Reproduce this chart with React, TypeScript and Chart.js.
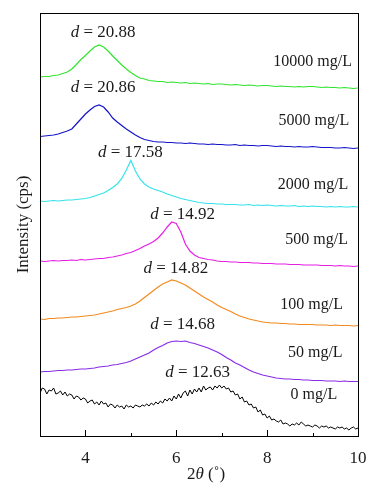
import React, { useEffect, useRef } from "react";
import { Chart, registerables } from "chart.js";

Chart.register(...registerables);

// 2θ grid (degrees)
const X_FINE = [
  3.00, 3.05, 3.10, 3.15, 3.20, 3.25, 3.30, 3.35, 3.40, 3.45, 3.50, 3.55, 3.60, 3.65, 3.70, 3.75, 3.80, 3.85, 3.90, 3.95,
  4.00, 4.05, 4.10, 4.15, 4.20, 4.25, 4.30, 4.35, 4.40, 4.45, 4.50, 4.55, 4.60, 4.65, 4.70, 4.75, 4.80, 4.85, 4.90, 4.95,
  5.00, 5.05, 5.10, 5.15, 5.20, 5.25, 5.30, 5.35, 5.40, 5.45, 5.50, 5.55, 5.60, 5.65, 5.70, 5.75, 5.80, 5.85, 5.90, 5.95,
  6.00, 6.05, 6.10, 6.15, 6.20, 6.25, 6.30, 6.35, 6.40, 6.45, 6.50, 6.55, 6.60, 6.65, 6.70, 6.75, 6.80, 6.85, 6.90, 6.95,
  7.00, 7.05, 7.10, 7.15, 7.20, 7.25, 7.30, 7.35, 7.40, 7.45, 7.50, 7.55, 7.60, 7.65, 7.70, 7.75, 7.80, 7.85, 7.90, 7.95,
  8.00, 8.05, 8.10, 8.15, 8.20, 8.25, 8.30, 8.35, 8.40, 8.45, 8.50, 8.55, 8.60, 8.65, 8.70, 8.75, 8.80, 8.85, 8.90, 8.95,
  9.00, 9.05, 9.10, 9.15, 9.20, 9.25, 9.30, 9.35, 9.40, 9.45, 9.50, 9.55, 9.60, 9.65, 9.70, 9.75, 9.80, 9.85, 9.90, 9.95,
  10.00,
];
const X_STEP = [
  3.0, 3.1, 3.2, 3.3, 3.4, 3.5, 3.6, 3.7, 3.8, 3.9,
  4.0, 4.1, 4.2, 4.3, 4.4, 4.5, 4.6, 4.7, 4.8, 4.9,
  5.0, 5.1, 5.2, 5.3, 5.4, 5.5, 5.6, 5.7, 5.8, 5.9,
  6.0, 6.1, 6.2, 6.3, 6.4, 6.5, 6.6, 6.7, 6.8, 6.9,
  7.0, 7.1, 7.2, 7.3, 7.4, 7.5, 7.6, 7.7, 7.8, 7.9,
  8.0, 8.1, 8.2, 8.3, 8.4, 8.5, 8.6, 8.7, 8.8, 8.9,
  9.0, 9.1, 9.2, 9.3, 9.4, 9.5, 9.6, 9.7, 9.8, 9.9,
  10.0,
];

// Intensity (stacked, arbitrary cps offsets)
const I_10000 = [
  359, 359.5, 359.5, 360.5, 361, 362.5, 364, 367, 371.5, 376.5,
  380.5, 385, 389, 391, 389, 385, 380, 375.5, 371, 367,
  363.5, 360.5, 358, 357, 355.5, 355, 354.5, 354.5, 353.5, 354,
  353.5, 353, 353.5, 352.5, 353, 352.5, 352, 352.5, 351.5, 352,
  352, 351.5, 351, 351.5, 351, 350.5, 351, 350.5, 350, 350.5,
  350.5, 350, 349.5, 350, 349.5, 349.5, 349, 349.5, 349, 349.5,
  349.5, 349, 348.5, 349, 348.5, 348.5, 348, 348.5, 348, 347.5,
  348,
];
const I_5000 = [
  299.5, 300, 300.5, 301, 302, 303.5, 305, 307, 312, 317,
  322, 326, 329.5, 331, 329, 324, 318, 314, 310.5, 307,
  304, 301, 298.5, 296.5, 295.5, 294.5, 294, 294, 293.5, 293.5,
  293, 293, 292.5, 293, 292.5, 292, 292, 291.5, 292, 291.5,
  291.5, 291, 291, 291.5, 290.5, 291, 290.5, 290.5, 290, 290.5,
  290.5, 290, 289.5, 290, 289.5, 289.5, 289, 289.5, 289, 289,
  289.5, 289, 288.5, 288.5, 288.5, 288, 288, 288.5, 288, 287.5,
  288,
];
const I_2000 = [
  235, 234.5, 235, 235.5, 235, 235.5, 236, 236, 236.5, 237,
  237.5, 238.5, 240, 241.5, 243, 245.5, 248.5, 252, 257.5, 266,
  275.5, 265, 257, 252, 249, 247, 245.5, 244, 242, 240.5,
  239, 237.5, 236.5, 235.5, 234.5, 233.5, 233, 232.5, 232.5, 232,
  232, 231.5, 231.5, 231.5, 231, 231, 231.5, 230.5, 231, 230.5,
  231, 230.5, 230, 230.5, 230, 230, 230.5, 229.5, 230, 229.5,
  230, 229.5, 229.5, 229, 229.5, 229, 229.5, 229, 229, 229.5,
  229,
];
const I_500 = [
  175, 174.5, 175, 175.5, 175, 175.5, 175.5, 176, 175.5, 176.5,
  176, 176.5, 177, 177.5, 177.5, 178.5, 179, 180, 181, 182.5,
  183.5, 185.5, 187.5, 190, 192, 194.5, 198, 203, 209, 214,
  212.5, 204, 192, 185, 181, 178.5, 177.5, 176.5, 176, 175,
  174.5, 174.5, 174, 174, 173.5, 173.5, 173.5, 173, 173, 172.5,
  172.5, 172.5, 172, 172, 172, 171.5, 171.5, 171.5, 171, 171,
  171, 171, 170.5, 170.5, 170.5, 170, 170.5, 170, 170, 169.5,
  170,
];
const I_100 = [
  117, 116.5, 117.5, 117.5, 118, 118, 118.5, 119, 119, 119.5,
  120, 120.5, 121, 122, 123, 124, 125, 126.5, 127.5, 128.5,
  130, 132, 135, 138.5, 142, 145.5, 149, 152, 154, 156,
  155, 153, 151, 148, 145, 142, 139, 136.5, 134, 131,
  128.5, 126.5, 124.5, 122, 120, 118.5, 117, 116, 115, 114,
  113.5, 113, 113, 112.5, 112.5, 112, 112, 111.5, 111.5, 111.5,
  111.5, 111, 111, 111, 110.5, 111, 110.5, 110.5, 110.5, 110,
  110.5,
];
const I_50 = [
  64, 64.5, 64.5, 65, 65.5, 65.5, 66, 66, 66.5, 67,
  67, 67.5, 68, 69, 69.5, 70, 71, 71.5, 72.5, 73.5,
  75, 77, 79, 81, 83, 86, 88.5, 90.5, 93, 94.5,
  95, 94.5, 95, 93.5, 92.5, 91, 89.5, 88, 86, 84,
  81.5, 78.5, 76, 73, 71, 68.5, 66, 64, 62.5, 61,
  60, 59, 58, 57.5, 57, 57, 56.5, 56.5, 56, 56,
  55.5, 55.5, 55.5, 55, 55, 55, 54.5, 55, 54.5, 54.5,
  54.5,
];
const I_0 = [
  43, 48, 47, 42, 46, 45, 48, 42, 43, 45, 41, 44, 40, 42, 41, 37, 40, 39, 36, 38,
  37, 33, 35, 36, 32, 34, 31, 35, 32, 33, 29, 32, 31, 28, 31, 29, 30, 27, 31, 29,
  30, 28, 31, 30, 29, 31, 30, 32, 30, 33, 31, 34, 32, 35, 33, 37, 35, 38, 35, 40,
  37, 42, 38, 43, 45, 40, 46, 42, 47, 44, 48, 44, 50, 46, 48, 49, 46, 50, 48, 51,
  48, 50, 47, 48, 44, 45, 41, 42, 37, 39, 34, 35, 31, 32, 28, 29, 24, 26, 21, 22,
  18, 20, 16, 17, 15, 14, 16, 12, 13, 12, 10, 12, 11, 13, 11, 14, 12, 10, 11, 10,
  9, 11, 10, 8, 10, 9, 10, 8, 9, 8, 7, 9, 8, 9, 7, 8, 6, 8, 9, 7,
  8,
];

const SERIES_NAMES = ["10000 mg/L", "5000 mg/L", "2000 mg/L", "500 mg/L", "100 mg/L", "50 mg/L", "0 mg/L"];
const SERIES_VALUES = [I_10000, I_5000, I_2000, I_500, I_100, I_50, I_0];
const SERIES_X = [X_STEP, X_STEP, X_STEP, X_STEP, X_STEP, X_STEP, X_FINE];
const SERIES_COLORS = ["#2fe52f", "#1414c8", "#35e3ea", "#e61ee6", "#f28a1e", "#8a2be8", "#000000"];
const SERIES_WIDTHS = [1.2, 1.2, 1.2, 1.2, 1.2, 1.2, 1];

// annotation positions in data units
const D_SPACING = ["20.88", "20.86", "17.58", "14.92", "14.82", "14.68", "12.63"];
const D_X = [4.39, 4.39, 4.99, 6.14, 5.99, 6.14, 6.47];
const D_Y = [403, 348, 283, 221, 167, 111, 63];
const CONC_X = [9.0, 9.03, 9.01, 9.09, 8.98, 9.06, 9.03];
const CONC_Y = [374, 315, 251, 196, 131, 83, 41];

const MAJOR_TICKS = [4, 6, 8, 10];
const MINOR_TICKS = [5, 7, 9];
const X_MIN = 3;
const X_MAX = 10;
const Y_MIN = 0;
const Y_MAX = 423;

const SERIF = "'Liberation Serif', 'DejaVu Serif', serif";
const TEXT_COLOR = "#1a1a1a";

const overlay = {
  id: "overlay",
  afterDraw(chart: any) {
    const { ctx, chartArea: a, scales } = chart;
    const xs = scales.x;
    const ys = scales.y;
    ctx.save();
    ctx.strokeStyle = "#000";
    ctx.lineWidth = 1;
    ctx.strokeRect(a.left + 0.5, a.top + 0.5, a.right - a.left, a.bottom - a.top);
    // inward ticks
    ctx.beginPath();
    MAJOR_TICKS.forEach((v) => {
      const px = Math.round(xs.getPixelForValue(v)) + 0.5;
      ctx.moveTo(px, a.bottom);
      ctx.lineTo(px, a.bottom - 6);
    });
    MINOR_TICKS.forEach((v) => {
      const px = Math.round(xs.getPixelForValue(v)) + 0.5;
      ctx.moveTo(px, a.bottom);
      ctx.lineTo(px, a.bottom - 3);
    });
    ctx.stroke();

    ctx.fillStyle = TEXT_COLOR;
    ctx.textBaseline = "middle";
    ctx.textAlign = "left";
    // d-spacing labels
    D_SPACING.forEach((t, i) => {
      const cx = xs.getPixelForValue(D_X[i]);
      const cy = ys.getPixelForValue(D_Y[i]);
      const italic = `italic 17px ${SERIF}`;
      const normal = `17px ${SERIF}`;
      ctx.font = italic;
      const w1 = ctx.measureText("d").width;
      ctx.font = normal;
      const rest = " = " + t;
      const w2 = ctx.measureText(rest).width;
      const x0 = cx - (w1 + w2) / 2;
      ctx.font = italic;
      ctx.fillText("d", x0, cy);
      ctx.font = normal;
      ctx.fillText(rest, x0 + w1, cy);
    });
    // concentration labels
    ctx.textAlign = "center";
    ctx.font = `16px ${SERIF}`;
    SERIES_NAMES.forEach((t, i) => {
      ctx.fillText(t, xs.getPixelForValue(CONC_X[i]), ys.getPixelForValue(CONC_Y[i]));
    });
    // x title with italic theta
    ctx.textAlign = "left";
    const parts: [string, string][] = [
      ["2", `17px ${SERIF}`],
      ["θ", `italic 17px ${SERIF}`],
      [" (˚)", `17px ${SERIF}`],
    ];
    let total = 0;
    parts.forEach(([s, f]) => {
      ctx.font = f;
      total += ctx.measureText(s).width;
    });
    let tx = (a.left + a.right) / 2 + 7 - total / 2;
    const ty = 475;
    parts.forEach(([s, f]) => {
      ctx.font = f;
      ctx.fillText(s, tx, ty);
      tx += ctx.measureText(s).width;
    });
    ctx.restore();
  },
};

export default function App() {
  const ref = useRef<HTMLCanvasElement | null>(null);
  useEffect(() => {
    if (!ref.current) return;
    const datasets = SERIES_NAMES.map((name, i) => ({
      label: name,
      data: SERIES_VALUES[i].map((v, j) => ({ x: SERIES_X[i][j], y: v })),
      borderColor: SERIES_COLORS[i],
      backgroundColor: SERIES_COLORS[i],
      borderWidth: SERIES_WIDTHS[i],
      pointRadius: 0,
      tension: 0,
      fill: false,
    }));
    const chart = new Chart(ref.current, {
      type: "line",
      data: { datasets },
      options: {
        animation: false,
        responsive: false,
        events: [],
        layout: { padding: { top: 13, right: 22, left: 0, bottom: 0 } },
        plugins: { legend: { display: false }, tooltip: { enabled: false } },
        scales: {
          x: {
            type: "linear",
            min: X_MIN,
            max: X_MAX,
            grid: { display: false },
            border: { display: false },
            afterBuildTicks: (s: any) => {
              s.ticks = MAJOR_TICKS.map((v) => ({ value: v }));
            },
            afterFit: (s: any) => {
              s.height = 64;
            },
            ticks: {
              padding: 4,
              color: TEXT_COLOR,
              font: { family: SERIF, size: 17 },
              maxRotation: 0,
              autoSkip: false,
            },
          },
          y: {
            type: "linear",
            min: Y_MIN,
            max: Y_MAX,
            grid: { display: false },
            border: { display: false },
            ticks: { display: false },
            afterFit: (s: any) => {
              s.width = 40;
            },
            title: {
              display: true,
              text: "Intensity (cps)",
              color: TEXT_COLOR,
              font: { family: SERIF, size: 17 },
              padding: { top: 13, bottom: 0 },
            },
          },
        },
      },
      plugins: [overlay],
    });
    return () => chart.destroy();
  }, []);
  return (
    <div style={{ position: "absolute", left: 0, top: 0, width: 380, height: 500, background: "#fff" }}>
      <canvas ref={ref} width={380} height={500} style={{ width: 380, height: 500 }} />
    </div>
  );
}
